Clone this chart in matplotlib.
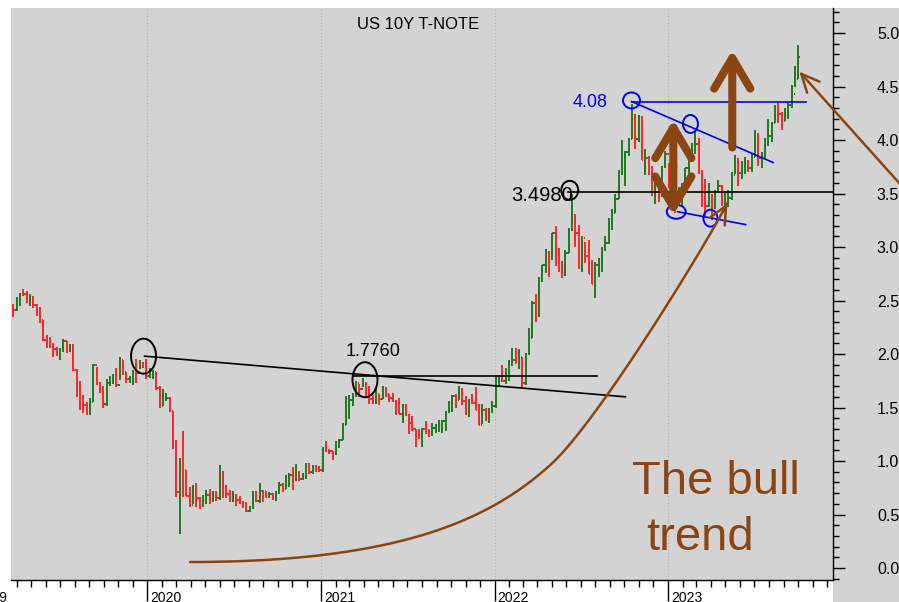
import numpy as np
import pandas as pd
import matplotlib
matplotlib.use("Agg")
import matplotlib.pyplot as plt
import matplotlib.dates as mdates
import matplotlib.transforms as mtransforms
from matplotlib.patches import Ellipse, Rectangle
from matplotlib.ticker import MultipleLocator, FormatStrFormatter

plt.rcParams["font.family"] = ["Liberation Sans", "DejaVu Sans"]

# weekly bars of the US 10y yield, first week starting 2019-03-25
first_open = 2.44

close_2019 = [2.41, 2.50, 2.56, 2.56, 2.50, 2.53, 2.46, 2.39, 2.32, 2.13,
              2.08, 2.08, 2.05, 2.00, 2.04, 2.12, 2.05, 2.07, 1.85, 1.74,
              1.55, 1.52, 1.50, 1.55, 1.90, 1.72, 1.68, 1.53, 1.73, 1.75,
              1.80, 1.71, 1.94, 1.83, 1.77, 1.78, 1.84, 1.82, 1.92, 1.88, 1.79]
high_2019 = [2.47, 2.53, 2.57, 2.61, 2.59, 2.56, 2.54, 2.47, 2.44, 2.32,
             2.18, 2.16, 2.10, 2.07, 2.06, 2.14, 2.12, 2.09, 2.09, 1.86,
             1.75, 1.62, 1.55, 1.59, 1.91, 1.88, 1.74, 1.70, 1.77, 1.79,
             1.81, 1.87, 1.97, 1.94, 1.83, 1.79, 1.85, 1.95, 1.94, 1.93, 1.95]
low_2019 = [2.35, 2.40, 2.45, 2.54, 2.48, 2.45, 2.43, 2.36, 2.29, 2.12,
            2.06, 2.06, 1.97, 1.98, 1.94, 2.02, 2.01, 2.02, 1.84, 1.60,
            1.48, 1.45, 1.43, 1.43, 1.55, 1.71, 1.64, 1.50, 1.51, 1.70,
            1.72, 1.69, 1.76, 1.80, 1.73, 1.73, 1.71, 1.73, 1.86, 1.87, 1.77]

close_2020 = [1.82, 1.83, 1.68, 1.51, 1.58, 1.59, 1.47, 1.13,
              0.71, 0.96, 0.92, 0.67, 0.59,
              0.73, 0.65, 0.60, 0.62,
              0.68, 0.64, 0.66, 0.65,
              0.90, 0.70, 0.69, 0.64, 0.67,
              0.64, 0.62, 0.59, 0.53,
              0.56, 0.71, 0.63, 0.72, 0.72,
              0.67, 0.69, 0.66, 0.70,
              0.78, 0.74, 0.84, 0.87,
              0.82, 0.89, 0.83, 0.84, 0.97,
              0.90, 0.95, 0.94, 0.92]
high_2020 = [1.87, 1.85, 1.83, 1.70, 1.67, 1.64, 1.60, 1.47,
             1.20, 1.03, 1.28, 0.92, 0.76,
             0.78, 0.79, 0.66, 0.68,
             0.73, 0.74, 0.72, 0.72,
             0.96, 0.91, 0.78, 0.73, 0.72,
             0.69, 0.67, 0.63, 0.62,
             0.58, 0.72, 0.72, 0.79, 0.73,
             0.72, 0.71, 0.70, 0.72,
             0.80, 0.79, 0.87, 0.89,
             0.94, 0.97, 0.91, 0.89, 0.98,
             0.98, 0.96, 0.96, 0.95]
low_2020 = [1.78, 1.77, 1.66, 1.50, 1.51, 1.56, 1.46, 1.11,
            0.66, 0.32, 0.66, 0.67, 0.57,
            0.60, 0.57, 0.55, 0.57,
            0.60, 0.60, 0.62, 0.63,
            0.64, 0.65, 0.65, 0.62, 0.62,
            0.58, 0.60, 0.56, 0.52,
            0.52, 0.55, 0.62, 0.61, 0.62,
            0.65, 0.65, 0.64, 0.63,
            0.69, 0.71, 0.74, 0.76,
            0.73, 0.81, 0.81, 0.82, 0.83,
            0.88, 0.88, 0.90, 0.90]

close_2021 = [1.12, 1.09, 1.09, 1.07,
              1.17, 1.20, 1.34, 1.41,
              1.57, 1.63, 1.73, 1.67, 1.72,
              1.66, 1.58, 1.56, 1.63,
              1.58, 1.63, 1.63, 1.59, 1.56,
              1.45, 1.44, 1.52, 1.43,
              1.36, 1.30, 1.28, 1.24,
              1.30, 1.28, 1.26, 1.31, 1.32,
              1.34, 1.37, 1.46, 1.47,
              1.61, 1.57, 1.64, 1.56,
              1.45, 1.56, 1.54, 1.48, 1.34,
              1.48, 1.40, 1.49, 1.51]
high_2021 = [1.13, 1.19, 1.11, 1.09,
             1.19, 1.21, 1.36, 1.61,
             1.62, 1.64, 1.75, 1.72, 1.78,
             1.74, 1.70, 1.62, 1.68,
             1.63, 1.70, 1.69, 1.63, 1.64,
             1.57, 1.59, 1.53, 1.53,
             1.44, 1.42, 1.30, 1.30,
             1.31, 1.37, 1.30, 1.36, 1.35,
             1.38, 1.38, 1.47, 1.56,
             1.62, 1.63, 1.70, 1.68,
             1.61, 1.58, 1.63, 1.69, 1.53,
             1.53, 1.50, 1.50, 1.56]
low_2021 = [0.90, 1.08, 1.07, 1.01,
            1.06, 1.12, 1.20, 1.34,
            1.39, 1.51, 1.60, 1.60, 1.69,
            1.61, 1.53, 1.53, 1.53,
            1.52, 1.58, 1.60, 1.55, 1.55,
            1.43, 1.44, 1.36, 1.42,
            1.25, 1.28, 1.13, 1.21,
            1.13, 1.25, 1.22, 1.23, 1.26,
            1.27, 1.26, 1.28, 1.45,
            1.46, 1.50, 1.57, 1.52,
            1.43, 1.41, 1.53, 1.48, 1.34,
            1.35, 1.37, 1.36, 1.45]

close_2022 = [1.77, 1.78, 1.75, 1.78, 1.93,
              1.94, 1.92, 1.97, 1.73,
              2.00, 2.15, 2.48, 2.38,
              2.71, 2.83, 2.90, 2.89,
              3.13, 2.92, 2.79, 2.74, 2.94,
              3.16, 3.23, 3.13, 2.88,
              3.08, 2.92, 2.75, 2.65,
              2.83, 2.85, 2.98, 3.04, 3.19,
              3.32, 3.45, 3.69, 3.80,
              3.89, 4.01, 4.21, 4.01, 4.16,
              3.81, 3.83, 3.68, 3.49,
              3.58, 3.48, 3.75, 3.87]
high_2022 = [1.80, 1.80, 1.90, 1.87, 1.94,
             2.06, 2.06, 2.05, 1.97,
             2.01, 2.24, 2.50, 2.56,
             2.72, 2.83, 2.98, 2.96,
             3.13, 3.20, 2.99, 2.87, 2.97,
             3.18, 3.50, 3.31, 3.21,
             3.10, 3.05, 3.07, 2.88,
             2.86, 2.90, 3.00, 3.10, 3.27,
             3.36, 3.50, 3.72, 4.00,
             3.90, 4.02, 4.34, 4.24, 4.23,
             4.22, 3.92, 3.85, 3.76,
             3.61, 3.62, 3.76, 3.90]
low_2022 = [1.50, 1.70, 1.74, 1.72, 1.75,
            1.89, 1.91, 1.86, 1.68,
            1.71, 1.99, 2.15, 2.30,
            2.35, 2.67, 2.76, 2.72,
            2.88, 2.82, 2.77, 2.71, 2.73,
            2.94, 3.15, 3.00, 2.79,
            2.77, 2.85, 2.75, 2.65,
            2.52, 2.72, 2.77, 2.96, 3.03,
            3.16, 3.32, 3.45, 3.67,
            3.57, 3.85, 4.01, 3.92, 3.98,
            3.81, 3.67, 3.67, 3.48,
            3.40, 3.42, 3.47, 3.74]

close_2023 = [3.55, 3.50, 3.48, 3.51, 3.53,
              3.74, 3.82, 3.95, 3.96,
              3.70, 3.43, 3.38, 3.47,
              3.39, 3.52, 3.57, 3.42,
              3.44, 3.46, 3.67, 3.80, 3.69,
              3.74, 3.76, 3.74, 3.84,
              4.06, 3.83, 3.84, 3.96, 4.04,
              4.16, 4.25, 4.24, 4.18,
              4.26, 4.33, 4.43, 4.57,
              4.78]
high_2023 = [3.79, 3.62, 3.55, 3.56, 3.60,
             3.74, 3.90, 3.97, 4.09,
             4.02, 3.72, 3.64, 3.60,
             3.50, 3.53, 3.63, 3.58,
             3.51, 3.53, 3.70, 3.86, 3.83,
             3.80, 3.84, 3.81, 3.88,
             4.09, 4.07, 3.89, 4.02, 4.20,
             4.17, 4.33, 4.36, 4.26,
             4.30, 4.36, 4.51, 4.69,
             4.89]
low_2023 = [3.55, 3.43, 3.32, 3.44, 3.37,
            3.50, 3.65, 3.80, 3.87,
            3.68, 3.37, 3.29, 3.37,
            3.25, 3.36, 3.52, 3.38,
            3.33, 3.37, 3.44, 3.68, 3.57,
            3.64, 3.68, 3.70, 3.70,
            3.84, 3.76, 3.74, 3.82, 3.94,
            3.98, 4.16, 4.16, 4.09,
            4.18, 4.20, 4.30, 4.50,
            4.57]

year_labels = ["2019", "2020", "2021", "2022", "2023"]

close = close_2019 + close_2020 + close_2021 + close_2022 + close_2023
high = high_2019 + high_2020 + high_2021 + high_2022 + high_2023
low = low_2019 + low_2020 + low_2021 + low_2022 + low_2023

GRAY = "#d3d3d3"
GREEN = "#1e7a1e"
RED = "#ff2424"
BROWN = "#8b4513"
BLUE = "#0000ff"

d = mdates.datestr2num

fig = plt.figure(figsize=(8.99, 6.02), dpi=100, facecolor="white")
W, H = 899, 602
ax = fig.add_axes([11 / W, 22 / H, 822 / W, 572 / H], facecolor=GRAY)
fig.patches.append(Rectangle((833 / W, 0), 1 - 833 / W, 594 / H, transform=fig.transFigure,
                             facecolor=GRAY, edgecolor="none", zorder=-5))

x0, x1 = d("2019-03-20"), d("2023-12-14")
y0, y1 = -0.112, 5.234
ax.set_xlim(x0, x1)
ax.set_ylim(y0, y1)

# ohlc bars
weeks = pd.date_range("2019-03-25", periods=len(close), freq="7D")
xd = mdates.date2num(weeks)
c = np.array(close)
o = np.array([first_open] + close[:-1])
cols = np.where(c > o, GREEN, RED)
ax.vlines(xd, low, high, colors=cols, lw=1.4, zorder=3)
ax.hlines(o, xd - 2.8, xd, colors=cols, lw=1.4, zorder=3)
ax.hlines(c, xd, xd + 2.8, colors=cols, lw=1.4, zorder=3)

# axes look
for s in ["left", "top"]:
    ax.spines[s].set_visible(False)
ax.spines["right"].set_linewidth(1.0)
ax.spines["bottom"].set_linewidth(1.0)
ax.yaxis.tick_right()
ax.yaxis.set_major_locator(MultipleLocator(0.5))
ax.yaxis.set_minor_locator(MultipleLocator(0.1))
ax.yaxis.set_major_formatter(FormatStrFormatter("%.2f"))
ax.tick_params(axis="y", which="major", length=8.6, width=1, pad=23, labelsize=11.5, colors="black")
ax.tick_params(axis="y", which="minor", length=4.3, width=1)
ax.xaxis.set_major_locator(mdates.YearLocator())
ax.xaxis.set_minor_locator(mdates.MonthLocator())
ax.tick_params(axis="x", which="major", length=15, width=1, labelbottom=False)
ax.tick_params(axis="x", which="minor", length=5, width=1)
ax.grid(axis="x", which="major", color="#b0b0b0", linestyle=(0, (1, 2)), lw=0.8)

# year labels right of the tick, cut by the lower edge like the original
lab_tr = mtransforms.blended_transform_factory(ax.transData, ax.transAxes) + \
    mtransforms.ScaledTranslation(2 / 72, -8 / 72, fig.dpi_scale_trans)
for yl in year_labels:
    ax.text(d(yl + "-01-01"), 0, yl, transform=lab_tr, ha="left", va="top",
            fontsize=10, clip_on=False)

ax.text(0.495, 0.985, "US 10Y T-NOTE", transform=ax.transAxes, ha="center", va="top",
        fontsize=12, family=["Liberation Sans Narrow", "Liberation Sans", "DejaVu Sans"])

# pixel -> data helpers for rings
days_px = (x1 - x0) / 822
val_px = (y1 - y0) / 572


def ring(day, val, w_px, h_px, color):
    ax.add_patch(Ellipse((d(day), val), w_px * days_px, h_px * val_px, fill=False,
                         edgecolor=color, lw=1.4, zorder=5))


# black trend lines
ax.plot([d("2019-12-26"), d("2022-10-03")], [1.98, 1.60], color="black", lw=1.2, zorder=4)
ax.plot([d("2021-03-08"), d("2022-08-05")], [1.79, 1.79], color="black", lw=1.2, zorder=4)
ax.plot([d("2022-06-05"), x1], [3.51, 3.51], color="black", lw=1.2, zorder=4)
ring("2019-12-24", 1.98, 25, 35, "black")
ring("2021-04-03", 1.76, 25, 35, "black")
ring("2022-06-08", 3.53, 17, 19, "black")
ax.text(d("2021-04-20"), 2.02, "1.7760", ha="center", va="center", fontsize=13, zorder=6)
ax.text(d("2022-04-11"), 3.48, "3.4980", ha="center", va="center", fontsize=14.5, zorder=6)

# blue pattern
ax.plot([d("2022-10-16"), d("2023-10-18")], [4.36, 4.36], color=BLUE, lw=1.2, zorder=4)
ax.plot([d("2022-10-16"), d("2023-08-10")], [4.36, 3.79], color=BLUE, lw=1.2, zorder=4)
ax.plot([d("2023-01-21"), d("2023-06-13")], [3.33, 3.21], color=BLUE, lw=1.2, zorder=4)
ring("2022-10-16", 4.37, 17, 16, BLUE)
ring("2023-02-17", 4.15, 15, 18, BLUE)
ring("2023-01-18", 3.33, 19, 14, BLUE)
ring("2023-03-31", 3.27, 14, 17, BLUE)
ax.text(d("2022-07-21"), 4.35, "4.08", color=BLUE, ha="center", va="center", fontsize=13, zorder=6)

# brown arrows
big = dict(arrowstyle="->,head_length=2.2,head_width=1.3", color=BROWN, lw=5.8,
           mutation_scale=10, shrinkA=0, shrinkB=0, capstyle="round", joinstyle="round")
ax.annotate("", xy=(d("2023-01-12"), 4.19), xytext=(d("2023-01-12"), 3.75),
            arrowprops=big, zorder=7)
ax.annotate("", xy=(d("2023-01-12"), 3.30), xytext=(d("2023-01-12"), 3.75),
            arrowprops=big, zorder=7)
ax.annotate("", xy=(d("2023-05-16"), 4.84), xytext=(d("2023-05-16"), 3.93),
            arrowprops=big, zorder=7)

thin = dict(arrowstyle="->,head_length=1.3,head_width=0.6", color=BROWN, lw=1.8,
            mutation_scale=10, shrinkA=0, shrinkB=0)
ax.annotate("", xy=(d("2023-10-04"), 4.64), xytext=(d("2024-05-15"), 3.53),
            arrowprops=thin, annotation_clip=False, zorder=7)

# bull trend curve (two cubic bezier pieces)
def bezier(p0, p1, p2, p3, n=60):
    t = np.linspace(0, 1, n)[:, None]
    pts = [np.array([d(p[0]), p[1]]) for p in (p0, p1, p2, p3)]
    return ((1 - t) ** 3) * pts[0] + 3 * ((1 - t) ** 2) * t * pts[1] + \
        3 * (1 - t) * t ** 2 * pts[2] + t ** 3 * pts[3]


seg1 = bezier(("2020-03-31", 0.056), ("2021-06-17", 0.056), ("2021-12-23", 0.458), ("2022-04-28", 0.963))
seg2 = bezier(("2022-04-28", 0.963), ("2022-07-31", 1.336), ("2023-03-04", 2.888), ("2023-05-06", 3.411))
curve = np.vstack([seg1, seg2])
ax.plot(curve[:, 0], curve[:, 1], color=BROWN, lw=1.8, zorder=6, solid_capstyle="round")
ax.annotate("", xy=tuple(curve[-1]), xytext=tuple(curve[-4]), arrowprops=thin, zorder=7)

ax.text(d("2023-04-12"), 0.80, "The bull", color=BROWN, fontsize=34, ha="center", va="center", zorder=6)
ax.text(d("2023-03-10"), 0.28, "trend", color=BROWN, fontsize=34, ha="center", va="center", zorder=6)

fig.savefig("out.png", dpi=100, facecolor="white")
